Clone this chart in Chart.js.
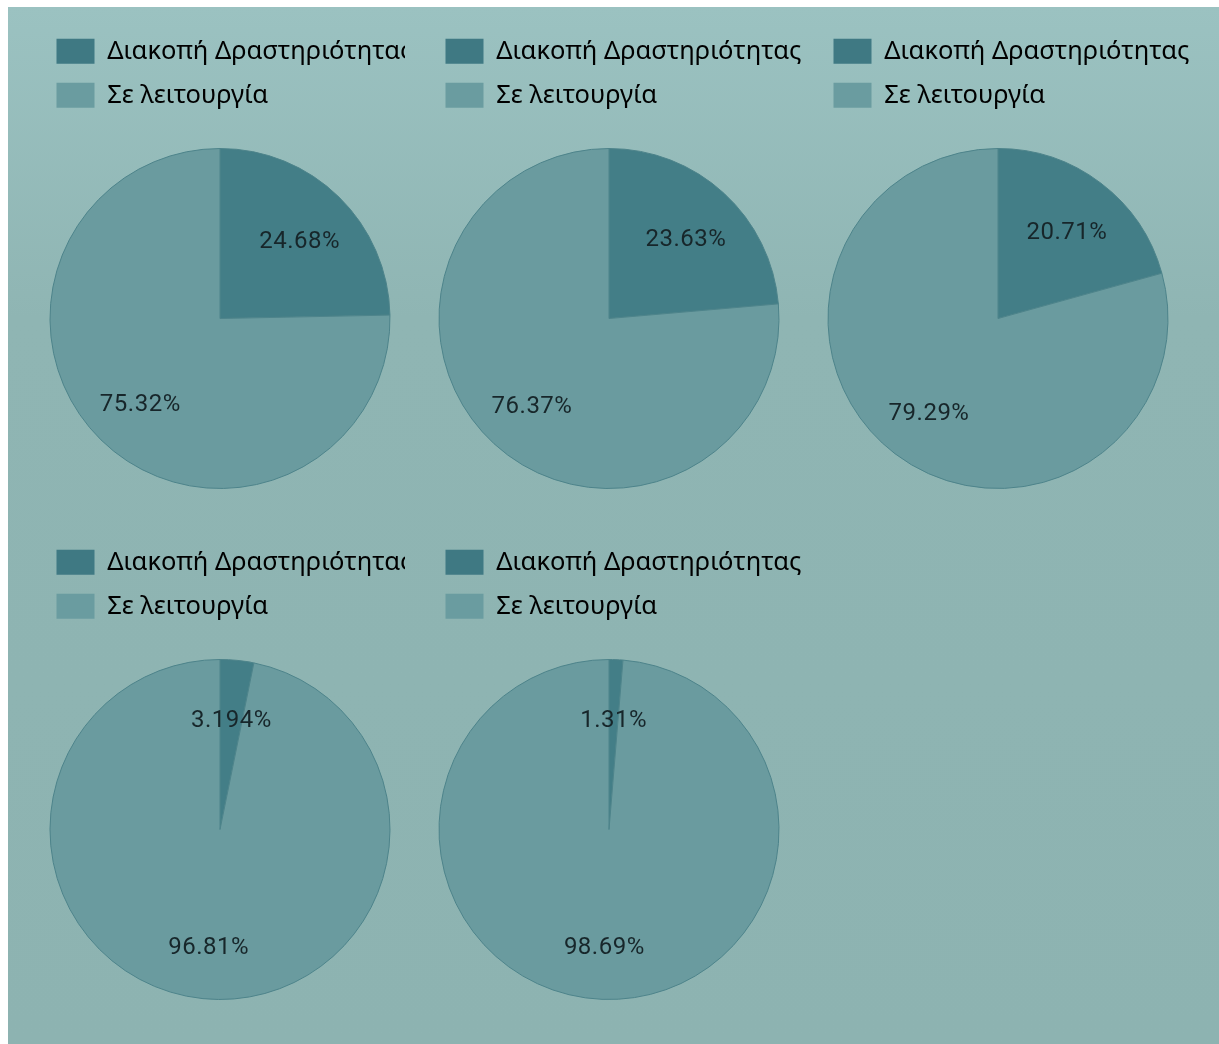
<!DOCTYPE html>
<html>
<head>
<meta charset="utf-8">
<script src="https://cdn.jsdelivr.net/npm/chart.js@4.4.1/dist/chart.umd.min.js"></script>
<style>
  html, body { margin: 0; padding: 0; background: #ffffff; }
  #board {
    position: absolute; left: 8px; top: 7px; width: 1211px; height: 1037px;
    background: linear-gradient(#9bc2c1, #8fb5b3 30%, #8db3b1);
  }
  canvas { position: absolute; }
</style>
</head>
<body>
<div id="board"></div>
<script>
// legend labels
const labels = ['Διακοπή Δραστηριότητας', 'Σε λειτουργία'];
// percentages per pie: [stopped, operating]
const stopped   = [24.68, 23.63, 20.71, 3.194, 1.31];
const operating = [75.32, 76.37, 79.29, 96.81, 98.69];

const sliceColors  = ['#437e87', '#6a9b9f'];
const legendColors = ['#3f7983', '#6a9ca0'];

// canvas placement (page coords) and pie centre x for each chart
const cells = [
    { left: 38,  top: 20,  width: 367, cx: 220 },
    { left: 427, top: 20,  width: 400, cx: 609 },
    { left: 815, top: 20,  width: 400, cx: 998 },
    { left: 38,  top: 531, width: 367, cx: 220 },
    { left: 427, top: 531, width: 400, cx: 609 }
];

// draws percentage text inside each slice
const percentLabels = {
    id: 'percentLabels',
    afterDatasetsDraw(chart) {
        const ctx = chart.ctx;
        const meta = chart.getDatasetMeta(0);
        const data = chart.data.datasets[0].data;
        const total = data.reduce((a, b) => a + b, 0);
        ctx.save();
        ctx.font = '24px Roboto';
        ctx.letterSpacing = '0.5px';
        ctx.fillStyle = '#17262a';
        ctx.textAlign = 'center';
        ctx.textBaseline = 'middle';
        meta.data.forEach((arc, i) => {
            const mid = (arc.startAngle + arc.endAngle) / 2;
            const r = arc.outerRadius * 0.67;
            const x = arc.x + Math.cos(mid) * r;
            const y = arc.y + Math.sin(mid) * r + 5;
            const pct = parseFloat((data[i] / total * 100).toPrecision(4));
            ctx.fillText(pct + '%', x, y);
        });
        ctx.restore();
    }
};

// extra gap under the legend, and let long labels run to the canvas edge
const legendTweaks = {
    id: 'legendTweaks',
    beforeLayout(chart) {
        const legend = chart.legend;
        if (legend && !legend._patched) {
            const fit = legend.fit;
            legend.fit = function() {
                fit.call(this);
                this.height += 30;
            };
            legend.draw = function() {
                this._draw();
            };
            legend._patched = true;
        }
    }
};

function makePie(i) {
    const cell = cells[i];
    const canvas = document.createElement('canvas');
    canvas.style.left = cell.left + 'px';
    canvas.style.top = cell.top + 'px';
    canvas.style.width = cell.width + 'px';
    canvas.style.height = '474px';
    document.body.appendChild(canvas);
    const rightPad = cell.width - 2 * (cell.cx - cell.left);
    new Chart(canvas, {
        type: 'pie',
        data: {
            labels: labels,
            datasets: [{
                data: [stopped[i], operating[i]],
                backgroundColor: sliceColors,
                borderColor: '#4d838a',
                borderWidth: 1
            }]
        },
        options: {
            responsive: false,
            animation: false,
            layout: { padding: { top: 0, bottom: 5, left: 0, right: rightPad } },
            plugins: {
                tooltip: { enabled: false },
                legend: {
                    position: 'top',
                    align: 'start',
                    labels: {
                        boxWidth: 38,
                        boxHeight: 25,
                        padding: 18.5,
                        color: '#101617',
                        font: { family: 'Noto Sans', size: 25.5 },
                        generateLabels(chart) {
                            return labels.map((t, k) => ({
                                text: t,
                                fillStyle: legendColors[k],
                                strokeStyle: legendColors[k],
                                lineWidth: 0,
                                hidden: false,
                                index: k
                            }));
                        }
                    }
                }
            }
        },
        plugins: [percentLabels, legendTweaks]
    });
}

document.addEventListener('DOMContentLoaded', function() {
    for (let i = 0; i < cells.length; i++) makePie(i);
});
</script>
</body>
</html>
